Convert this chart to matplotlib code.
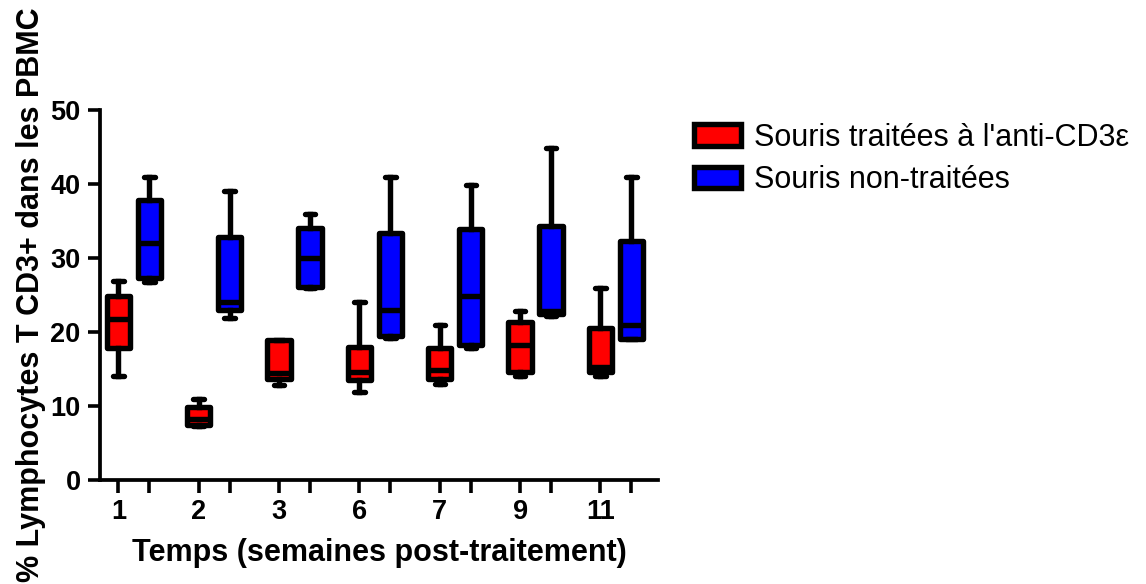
import matplotlib
matplotlib.use("Agg")
import matplotlib.pyplot as plt
from matplotlib.patches import Patch
import numpy as np

plt.rcParams['font.family'] = ['Liberation Sans', 'DejaVu Sans']

weeks = ["1", "2", "3", "6", "7", "9", "11"]
labels = ["Souris traitées à l'anti-CD3ε", "Souris non-traitées"]
colors = ["#ff0000", "#0000ff"]

# min, q1, median, q3, max per week
treated_min = [14, 7.3, 12.9, 11.9, 13.0, 14.0, 14.0]
treated_q1 = [17.8, 7.5, 13.7, 13.5, 13.7, 14.6, 14.6]
treated_med = [21.7, 8.3, 14.4, 14.6, 14.9, 18.2, 15.3]
treated_q3 = [24.8, 9.9, 18.9, 18.0, 17.8, 21.4, 20.6]
treated_max = [26.9, 11.0, 18.9, 24.0, 20.9, 22.9, 25.9]

control_min = [26.8, 21.9, 26.0, 19.2, 17.9, 22.1, 19.0]
control_q1 = [27.3, 23.0, 26.1, 19.5, 18.2, 22.5, 19.0]
control_med = [32.0, 24.1, 30.0, 23.0, 24.9, 22.9, 20.9]
control_q3 = [37.8, 32.9, 34.0, 33.4, 33.9, 34.3, 32.3]
control_max = [40.9, 39.0, 35.9, 40.9, 39.9, 44.9, 40.9]

fig = plt.figure(figsize=(11.46, 5.84), dpi=100)
ax = fig.add_axes([100/1146, 1 - 480/584, 558/1146, 370/584])

def stats(mn, q1, med, q3, mx):
    return [dict(whislo=a, q1=b, med=c, q3=d, whishi=e, fliers=[])
            for a, b, c, d, e in zip(mn, q1, med, q3, mx)]

groups = np.arange(len(weeks))
offset = 0.386
lw = 3.9
series = [
    (stats(treated_min, treated_q1, treated_med, treated_q3, treated_max), groups, colors[0]),
    (stats(control_min, control_q1, control_med, control_q3, control_max), groups + offset, colors[1]),
]
for st, pos, c in series:
    ax.bxp(st, positions=pos, widths=0.29, patch_artist=True, showfliers=False,
           boxprops=dict(facecolor=c, edgecolor="black", linewidth=lw, joinstyle="round"),
           medianprops=dict(color="black", linewidth=lw),
           whiskerprops=dict(color="black", linewidth=lw),
           capprops=dict(color="black", linewidth=lw, solid_capstyle="round"),
           capwidths=0.13, manage_ticks=False)

ticks = np.sort(np.concatenate([groups, groups + offset]))
ax.set_xticks(ticks)
ax.set_xticklabels([w if i % 2 == 0 else "" for i, w in enumerate(np.repeat(weeks, 2))])
ax.set_xlim(-0.228, 6.716)
ax.set_ylim(0, 50)
ax.set_yticks([0, 10, 20, 30, 40, 50])

for s in ["top", "right"]:
    ax.spines[s].set_visible(False)
for s in ["left", "bottom"]:
    ax.spines[s].set_linewidth(2.7)
ax.tick_params(width=2.6, length=9, labelsize=19.5, pad=5)
for t in ax.get_xticklabels() + ax.get_yticklabels():
    t.set_fontweight("bold")

ax.set_xlabel("Temps (semaines post-traitement)", fontsize=22, fontweight="bold", labelpad=9)
ax.set_ylabel("% Lymphocytes T CD3+ dans les PBMC", fontsize=22, fontweight="bold", labelpad=3)

handles = [Patch(facecolor=c, edgecolor="black", linewidth=3.9) for c in colors]
fig.legend(handles, labels, loc="upper left", bbox_to_anchor=(694/1146, 1 - 123/584),
           frameon=False, fontsize=22, handlelength=1.55, handleheight=0.72,
           handletextpad=0.42, labelspacing=0.4, borderaxespad=0, borderpad=0)

fig.savefig("out.png", dpi=100)
